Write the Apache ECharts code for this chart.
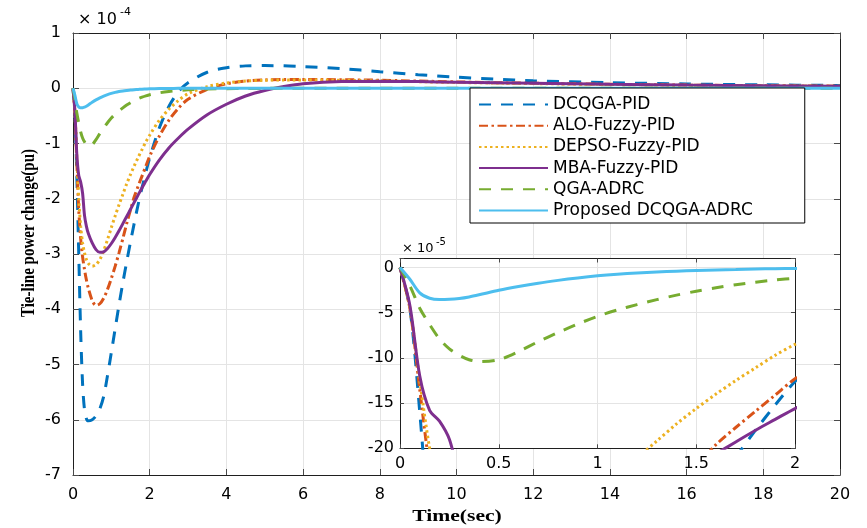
<!DOCTYPE html>
<html>
<head>
<meta charset="utf-8">
<script src="https://cdn.jsdelivr.net/npm/echarts@6/dist/echarts.min.js"></script>
<style>
  html, body { margin: 0; padding: 0; background: #ffffff; }
  #chart { width: 867px; height: 528px; }
</style>
</head>
<body>
<div id="chart"></div>
<script>
// Simulation time (s)
const timeSec = [0, 0.05, 0.1, 0.15, 0.2, 0.25, 0.3, 0.35, 0.4,
  0.5, 0.6, 0.7, 0.8, 0.9, 1.0,
  1.1, 1.2, 1.3, 1.4, 1.5, 1.6, 1.7, 1.8, 1.9, 2.0,
  2.25, 2.5, 2.75, 3.0,
  3.5, 4.0, 4.5, 5, 5.5, 6,
  7, 8, 9, 10, 11, 12,
  14, 16, 18, 20];

// Tie-line power deviation, in units of 1e-4 pu
const dcqgaPid = [0, -0.45, -1.6, -3.0, -4.4, -5.35, -5.82, -5.98, -6.02,
  -6.0, -5.93, -5.8, -5.58, -5.2, -4.78,
  -4.35, -3.92, -3.52, -3.14, -2.78, -2.43, -2.1, -1.8, -1.52, -1.26,
  -0.72, -0.33, -0.06, 0.1,
  0.29, 0.37, 0.405, 0.41, 0.405, 0.39,
  0.355, 0.3, 0.245, 0.2, 0.165, 0.135,
  0.1, 0.078, 0.062, 0.05];

const aloFuzzyPid = [0, -0.45, -1.35, -2.2, -2.72, -3.05, -3.28, -3.47, -3.62,
  -3.84, -3.93, -3.9, -3.8, -3.64, -3.44,
  -3.22, -2.98, -2.72, -2.45, -2.2, -1.96, -1.77, -1.59, -1.41, -1.23,
  -0.87, -0.58, -0.36, -0.2,
  -0.02, 0.08, 0.13, 0.15, 0.16, 0.16,
  0.155, 0.145, 0.13, 0.115, 0.1, 0.09,
  0.072, 0.057, 0.046, 0.038];

const depsoFuzzyPid = [0, -0.45, -1.25, -2.0, -2.5, -2.8, -2.98, -3.1, -3.17,
  -3.22, -3.19, -3.1, -2.94, -2.74, -2.52,
  -2.31, -2.11, -1.92, -1.73, -1.56, -1.4, -1.25, -1.11, -0.97, -0.85,
  -0.58, -0.38, -0.22, -0.1,
  0.03, 0.095, 0.13, 0.145, 0.15, 0.15,
  0.145, 0.135, 0.12, 0.105, 0.095, 0.085,
  0.068, 0.054, 0.044, 0.036];

const mbaFuzzyPid = [0, -0.42, -1.2, -1.58, -1.7, -1.9, -2.3, -2.5, -2.63,
  -2.8, -2.92, -2.97, -2.96, -2.9, -2.81,
  -2.7, -2.58, -2.45, -2.32, -2.19, -2.06, -1.93, -1.8, -1.68, -1.56,
  -1.3, -1.08, -0.9, -0.74,
  -0.48, -0.29, -0.14, -0.04, 0.03, 0.08,
  0.12, 0.125, 0.12, 0.11, 0.1, 0.09,
  0.072, 0.057, 0.046, 0.038];

const qgaAdrc = [0, -0.2, -0.45, -0.63, -0.79, -0.9, -0.97, -1.02, -1.04,
  -1.02, -0.93, -0.82, -0.72, -0.625, -0.54,
  -0.47, -0.41, -0.355, -0.305, -0.262, -0.224, -0.19, -0.162, -0.138, -0.118,
  -0.083, -0.058, -0.04, -0.028,
  -0.014, -0.007, -0.004, -0.002, -0.001, 0,
  0, 0, 0, 0, 0, 0,
  0, 0, 0, 0];

const proposedAdrc = [0, -0.13, -0.28, -0.34, -0.355, -0.352, -0.342, -0.325, -0.302,
  -0.252, -0.21, -0.173, -0.142, -0.115, -0.092,
  -0.074, -0.06, -0.049, -0.04, -0.032, -0.026, -0.021, -0.016, -0.013, -0.01,
  -0.006, -0.004, -0.002, -0.001,
  0, 0, 0, 0, 0, 0,
  0, 0, 0, 0, 0, 0,
  0, 0, 0, 0];

const seriesNames = ['DCQGA-PID', 'ALO-Fuzzy-PID', 'DEPSO-Fuzzy-PID',
  'MBA-Fuzzy-PID', 'QGA-ADRC', 'Proposed DCQGA-ADRC'];
const seriesValues = [dcqgaPid, aloFuzzyPid, depsoFuzzyPid, mbaFuzzyPid, qgaAdrc, proposedAdrc];

// Line appearance per controller (MATLAB default palette)
const lineLooks = [
  { color: '#0072BD', type: [12, 10] },
  { color: '#D95319', type: [9, 3.5, 2.5, 3.5] },
  { color: '#EDB120', type: [2.5, 3] },
  { color: '#7E2F8E', type: 'solid' },
  { color: '#77AC30', type: [12, 10] },
  { color: '#4DBEEE', type: 'solid' }
];

const TICK_FONT = 'DejaVu Sans';
const AXIS_COLOR = '#1f1f1f';
const GRID_COLOR = '#e4e4e4';

function makeAxis(opts) {
  return {
    type: 'value',
    gridIndex: opts.grid,
    position: opts.position,
    min: opts.min,
    max: opts.max,
    interval: opts.interval,
    z: opts.z,
    axisLine: { show: true, onZero: false, lineStyle: { color: AXIS_COLOR, width: 1 } },
    axisTick: { show: true, inside: true, length: opts.tickLen, lineStyle: { color: '#4a4a4a', width: 1 } },
    axisLabel: opts.labels ? {
      show: true, color: '#000', fontSize: opts.fontSize, fontFamily: TICK_FONT,
      margin: opts.margin, formatter: opts.formatter
    } : { show: false },
    splitLine: { show: !!opts.split, lineStyle: { color: GRID_COLOR, width: 1 } }
  };
}

const xAxes = [
  makeAxis({ grid: 0, position: 'bottom', min: 0, max: 20, interval: 2, z: 0, tickLen: 6,
    labels: true, fontSize: 16, margin: 12, split: true }),
  makeAxis({ grid: 0, position: 'top', min: 0, max: 20, interval: 2, z: 0, tickLen: 6 }),
  makeAxis({ grid: 1, position: 'bottom', min: 0, max: 2, interval: 0.5, z: 4, tickLen: 4,
    labels: true, fontSize: 16, margin: 8, split: true, formatter: v => String(v) }),
  makeAxis({ grid: 1, position: 'top', min: 0, max: 2, interval: 0.5, z: 4, tickLen: 4 })
];

const yAxes = [
  makeAxis({ grid: 0, position: 'left', min: -7, max: 1, interval: 1, z: 0, tickLen: 6,
    labels: true, fontSize: 16, margin: 12, split: true }),
  makeAxis({ grid: 0, position: 'right', min: -7, max: 1, interval: 1, z: 0, tickLen: 6 }),
  makeAxis({ grid: 1, position: 'left', min: -20, max: 1, interval: 5, z: 4, tickLen: 4,
    labels: true, fontSize: 16, margin: 6, split: true,
    formatter: v => (v % 5 === 0 ? String(v) : '') }),
  makeAxis({ grid: 1, position: 'right', min: -20, max: 1, interval: 5, z: 4, tickLen: 4 })
];

const series = [];
seriesValues.forEach((vals, i) => {
  const look = lineLooks[i];
  const base = {
    type: 'line',
    name: seriesNames[i],
    showSymbol: false,
    symbol: 'none',
    smooth: 0.3,
    clip: true,
    lineStyle: { color: look.color, width: 3, type: look.type, cap: 'butt' },
    itemStyle: { color: look.color },
    emphasis: { disabled: true }
  };
  // full 0-20 s response, 1e-4 pu
  series.push(Object.assign({}, base, {
    xAxisIndex: 0, yAxisIndex: 0, z: 2,
    data: timeSec.map((t, k) => [t, vals[k]])
  }));
  // zoomed 0-2 s view, 1e-5 pu
  series.push(Object.assign({}, base, {
    xAxisIndex: 2, yAxisIndex: 2, z: 5,
    data: timeSec.map((t, k) => [t, vals[k] * 10])
  }));
});

const option = {
  animation: false,
  backgroundColor: '#ffffff',
  grid: [
    { left: 73, top: 33, width: 767, height: 442, show: false, z: 0 },
    { left: 400, top: 258.5, width: 395, height: 189.8, show: true,
      backgroundColor: '#ffffff', borderWidth: 0, z: 3 }
  ],
  xAxis: xAxes,
  yAxis: yAxes,
  legend: {
    show: true,
    orient: 'vertical',
    left: 470,
    top: 88,
    z: 10,
    data: seriesNames,
    itemWidth: 69,
    itemHeight: 14,
    itemGap: 4.2,
    padding: [8, 52, 4, 8],
    backgroundColor: '#ffffff',
    borderColor: '#000000',
    borderWidth: 1,
    borderRadius: 0,
    selectedMode: false,
    // only the line sample is shown, no marker in the middle
    itemStyle: { color: 'rgba(0,0,0,0)', borderColor: 'rgba(0,0,0,0)', borderWidth: 0 },
    textStyle: { color: '#000', fontSize: 17, fontFamily: TICK_FONT, lineHeight: 17 }
  },
  graphic: [
    { type: 'text', x: 78, y: 12, z: 10,
      style: { text: '× 10', font: '16px "DejaVu Sans"', fill: '#000' } },
    { type: 'text', x: 120, y: 7, z: 10,
      style: { text: '-4', font: '11px "DejaVu Sans"', fill: '#000' } },
    { type: 'text', x: 402, y: 242, z: 10,
      style: { text: '× 10', font: '13px "DejaVu Sans"', fill: '#000' } },
    { type: 'text', x: 436, y: 237, z: 10,
      style: { text: '-5', font: '10px "DejaVu Sans"', fill: '#000' } },
    { type: 'text', x: 457, y: 517, z: 10, scaleX: 1.35,
      style: { text: 'Time(sec)', font: 'bold 16px "Liberation Serif"', fill: '#000',
        textAlign: 'center', textVerticalAlign: 'middle' } },
    { type: 'text', x: 29, y: 233, z: 10, rotation: Math.PI / 2, scaleY: 1.3,
      style: { text: 'Tie-line power change(pu)', font: 'bold 15px "Liberation Serif"', fill: '#000',
        textAlign: 'center', textVerticalAlign: 'middle' } }
  ],
  series: series
};

const chart = echarts.init(document.getElementById('chart'), null, { renderer: 'canvas' });
chart.setOption(option);
</script>
</body>
</html>
